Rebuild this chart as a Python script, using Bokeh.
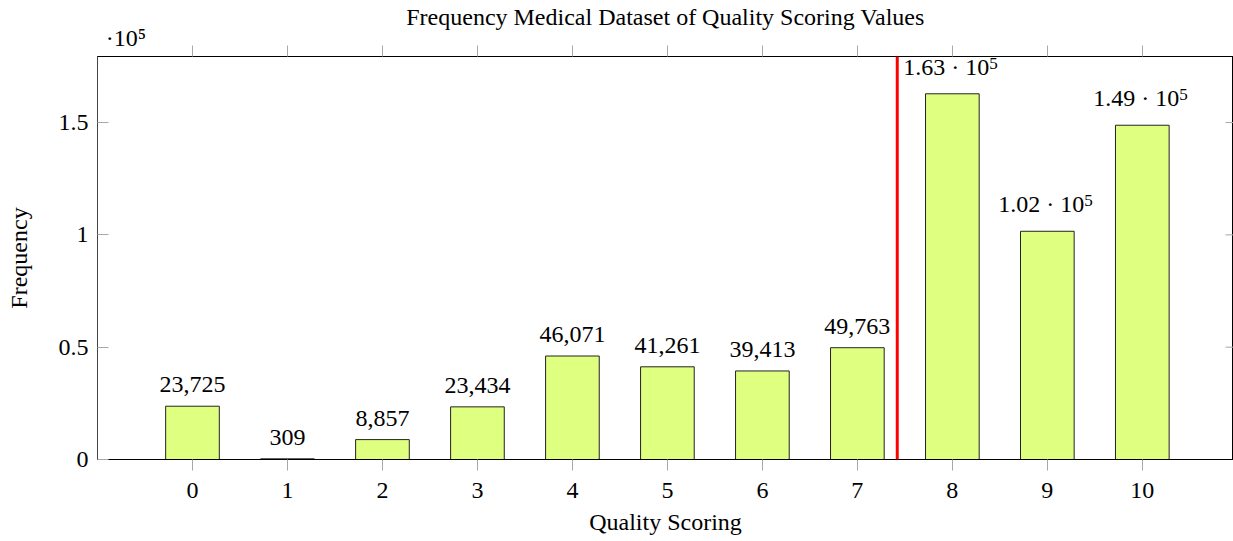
from bokeh.plotting import figure
from bokeh.models import ColumnDataSource, Range1d, LinearAxis, FixedTicker, Span
from bokeh.embed import file_html
from bokeh.resources import INLINE
from bokeh.core.properties import value

# ---- data ----
scores = [0, 1, 2, 3, 4, 5, 6, 7, 8, 9, 10]
freq = [23725, 309, 8857, 23434, 46071, 41261, 39413, 49763, 162800, 101600, 148800]
threshold = 7.42
y_ticks = [0, 50000, 100000, 150000]
y_tick_labels = ["0", "0.5", "1", "1.5"]
multiplier_text = "\u00b710\u2075"
multiplier_pos = -0.7
title = "Frequency Medical Dataset of Quality Scoring Values"
x_label = "Quality Scoring"
y_label = "Frequency"
X_MIN, X_MAX = -1, 10.96
Y_MAX = 179400

FONT = "Liberation Serif"
TICK_GRAY = "#a8a8a8"

p = figure(width=1233, height=541, output_backend="svg", toolbar_location=None,
           x_range=Range1d(X_MIN, X_MAX), y_range=Range1d(0, Y_MAX),
           min_border_left=97, min_border_right=0, min_border_top=56, min_border_bottom=82)
p.xgrid.visible = False
p.ygrid.visible = False
p.outline_line_color = "black"
p.outline_line_width = 1
p.background_fill_color = "white"
p.border_fill_color = "white"

# bottom axis
xa = p.xaxis[0]
xa.ticker = FixedTicker(ticks=scores)
xa.major_tick_out = 11
xa.major_tick_in = 0
xa.major_tick_line_color = TICK_GRAY
xa.minor_tick_line_color = None
xa.axis_line_color = "black"
xa.major_label_text_font = FONT
xa.major_label_text_font_size = "24px"
xa.major_label_text_color = "black"
xa.major_label_standoff = 12
xa.axis_label = x_label
xa.axis_label_text_font = FONT
xa.axis_label_text_font_size = "24px"
xa.axis_label_text_font_style = "normal"
xa.axis_label_text_color = "black"
xa.axis_label_standoff = 8

# top axis (ticks only)
ta = LinearAxis(ticker=FixedTicker(ticks=scores))
ta.major_tick_out = 11
ta.major_tick_in = 0
ta.major_tick_line_color = TICK_GRAY
ta.minor_tick_line_color = None
ta.axis_line_color = "black"
ta.major_label_text_font_size = "1px"
ta.major_label_text_color = None
ta.major_label_standoff = 0
p.add_layout(ta, "above")

# second top axis: multiplier and title
ta2 = LinearAxis(ticker=FixedTicker(ticks=[multiplier_pos]))
ta2.major_label_overrides = {multiplier_pos: multiplier_text}
ta2.major_tick_out = 0
ta2.major_tick_in = 0
ta2.major_tick_line_color = None
ta2.minor_tick_line_color = None
ta2.axis_line_color = None
ta2.major_label_text_font = FONT
ta2.major_label_text_font_size = "24px"
ta2.major_label_text_color = "black"
ta2.major_label_standoff = -5
ta2.axis_label = title
ta2.axis_label_text_font = FONT
ta2.axis_label_text_font_size = "24px"
ta2.axis_label_text_font_style = "normal"
ta2.axis_label_text_color = "black"
ta2.axis_label_standoff = -8
p.add_layout(ta2, "above")

# left axis
ya = p.yaxis[0]
ya.ticker = FixedTicker(ticks=y_ticks)
ya.major_label_overrides = {t: l for t, l in zip(y_ticks, y_tick_labels)}
ya.major_tick_in = 11
ya.major_tick_out = 0
ya.major_tick_line_color = TICK_GRAY
ya.minor_tick_line_color = None
ya.axis_line_color = "#444444"
ya.major_label_text_font = FONT
ya.major_label_text_font_size = "24px"
ya.major_label_text_color = "black"
ya.major_label_standoff = 9
ya.axis_label = y_label
ya.axis_label_text_font = FONT
ya.axis_label_text_font_size = "24px"
ya.axis_label_text_font_style = "normal"
ya.axis_label_text_color = "black"
ya.axis_label_standoff = 24

# right-side tick marks (mirrored y ticks, inward); half of each dash is clipped by the frame
p.scatter(x=[X_MAX] * len(y_ticks), y=y_ticks, marker="dash", size=16,
          line_color=TICK_GRAY, line_width=1)

# bars
src = ColumnDataSource(dict(x=scores, y=freq))
p.vbar(x="x", top="y", bottom=0, width=0.565, source=src,
       fill_color="#dfff80", line_color="#222222", line_width=1)

# threshold line
p.add_layout(Span(location=threshold, dimension="height", line_color="red", line_width=3))

# bar value labels
small_x, small_y, small_t = [], [], []
big_x, big_y, big_main, big_sup = [], [], [], []
for s, f in zip(scores, freq):
    if f >= 100000:
        big_x.append(s); big_y.append(f)
        big_main.append(f"{f / 1e5:.2f} \u00b7 10"); big_sup.append("5")
    else:
        small_x.append(s); small_y.append(f); small_t.append(f"{f:,}")

p.text(x=small_x, y=small_y, text=small_t, text_align="center", text_baseline="bottom",
       y_offset=-14, text_font=value(FONT), text_font_size="24px", text_color="black")
p.text(x=big_x, y=big_y, text=big_main, text_align="right", text_baseline="bottom",
       x_offset=37, y_offset=-14, text_font=value(FONT), text_font_size="24px", text_color="black")
p.text(x=big_x, y=big_y, text=big_sup, text_align="left", text_baseline="bottom",
       x_offset=37, y_offset=-25, text_font=value(FONT), text_font_size="17px", text_color="black")

open("out.html", "w").write(file_html(p, INLINE))
